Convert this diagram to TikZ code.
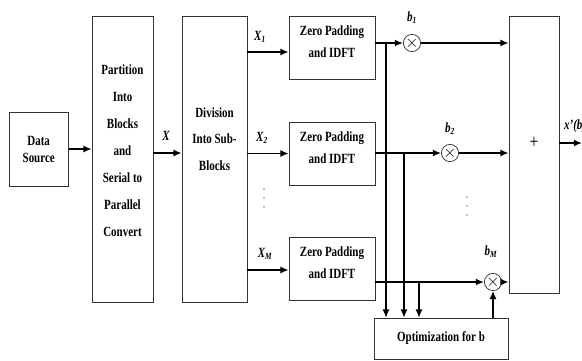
\documentclass[tikz,border=0pt]{standalone}
\usepackage{fontspec}
\setmainfont[FakeStretch=0.78]{Liberation Serif}
\usetikzlibrary{arrows.meta}

\begin{document}
\begin{tikzpicture}[x=0.03cm,y=-0.03cm,>={Latex[length=7pt,width=6pt]},
  blk/.style={draw=black!80,line width=0.6pt,align=center,inner sep=0pt,font=\bfseries\fontsize{12}{19}\selectfont},
  mul/.style={draw=black!80,circle,line width=0.6pt,minimum size=0.45cm,inner sep=0pt,font=\Large},
  sig/.style={line width=1.4pt,->},
  lbl/.style={font=\bfseries\itshape\fontsize{12}{13}\selectfont}]
  \useasboundingbox (0,0) rectangle (582,360);
  % blocks
  \node[blk,minimum width=1.77cm,minimum height=2.22cm,font=\bfseries\fontsize{12}{14.5}\selectfont] (ds) at (38.7,149) {Data\\Source};
  \node[blk,minimum width=1.83cm,minimum height=8.58cm,font=\bfseries\fontsize{12}{23}\selectfont] (part) at (122.5,159)
    {Partition\\Into\\Blocks\\and\\Serial to\\Parallel\\Convert\\[-9pt]};
  \node[blk,minimum width=1.95cm,minimum height=8.58cm,font=\bfseries\fontsize{12}{23}\selectfont] (div) at (214.5,159)
    {Division\\Into Sub-\\Blocks\\[11pt]};
  \node[blk,minimum width=2.58cm,minimum height=1.89cm] (zp1) at (332,47.5) {Zero Padding\\and IDFT\\[-9pt]};
  \node[blk,minimum width=2.58cm,minimum height=1.89cm] (zp2) at (332,153.5) {Zero Padding\\and IDFT\\[-9pt]};
  \node[blk,minimum width=2.58cm,minimum height=1.89cm] (zp3) at (332,268.5) {Zero Padding\\and IDFT\\[-9pt]};
  \node[blk,minimum width=1.5cm,minimum height=8.31cm] (sum) at (534,154.5) {};
  \node[font=\LARGE] (plus) at (534,143) {+};
  \node[blk,minimum width=4.02cm,minimum height=1.23cm] (opt) at (441,338.5) {Optimization for b};
  % multipliers
  \node[mul] (m1) at (412,43) {$\times$};
  \node[mul] (m2) at (450,153) {$\times$};
  \node[mul] (m3) at (493,282) {$\times$};
  % labels
  \node[lbl] (x) at (166,136) {X};
  \node[lbl] (x1) at (260,37) {X\textsubscript{1}};
  \node[lbl] (x2) at (262,138) {X\textsubscript{2}};
  \node[lbl] (xm) at (265,254) {X\textsubscript{M}};
  \node[lbl] (b1) at (412,18) {b\textsubscript{1}};
  \node[lbl] (b2) at (450,129) {b\textsubscript{2}};
  \node[lbl] (bm) at (491,252) {b\textsubscript{M}};
  \node[lbl,anchor=west] (xb) at (560,126) {x'(b)};
  \foreach \y in {189,198,207} \fill (264,\y) circle (0.6pt);
  \foreach \y in {197,206,215} \fill (467,\y) circle (0.6pt);
  % signal flow
  \draw[sig] (ds) -- (ds -| part.west);
  \draw[sig] (part.east |- 0,153) -- (div.west |- 0,153);
  \draw[sig] (div.east |- 0,52) -- (zp1.west |- 0,52);
  \draw[sig] (div.east |- zp2) -- (zp2);
  \draw[sig] (div.east |- 0,270) -- (zp3.west |- 0,270);
  \draw[sig] (zp1.east |- m1) -- (m1);
  \draw[sig] (zp2.east |- m2) -- (m2);
  \draw[sig] (zp3.east |- m3) -- (m3);
  \draw[sig] (m1) -- (m1 -| sum.west);
  \draw[sig] (m2) -- (m2 -| sum.west);
  \draw[sig] (m3) -- (m3 -| sum.west);
  % taps to the optimiser
  \coordinate (t1) at (386,0 |- m1);
  \coordinate (t2) at (404,0 |- m2);
  \coordinate (t3) at (419,0 |- m3);
  \draw[sig,line width=1.1pt] (t1) -- (t1 |- opt.north);
  \draw[sig,line width=1.1pt] (t2) -- (t2 |- opt.north);
  \draw[sig,line width=1.1pt] (t3) -- (t3 |- opt.north);
  \draw[sig,line width=1.1pt] (opt.north -| m3) -- (m3);
  % output
  \coordinate (out) at (582,143);
  \draw[sig] (plus -| sum.east) -- (out);
\end{tikzpicture}
\end{document}
